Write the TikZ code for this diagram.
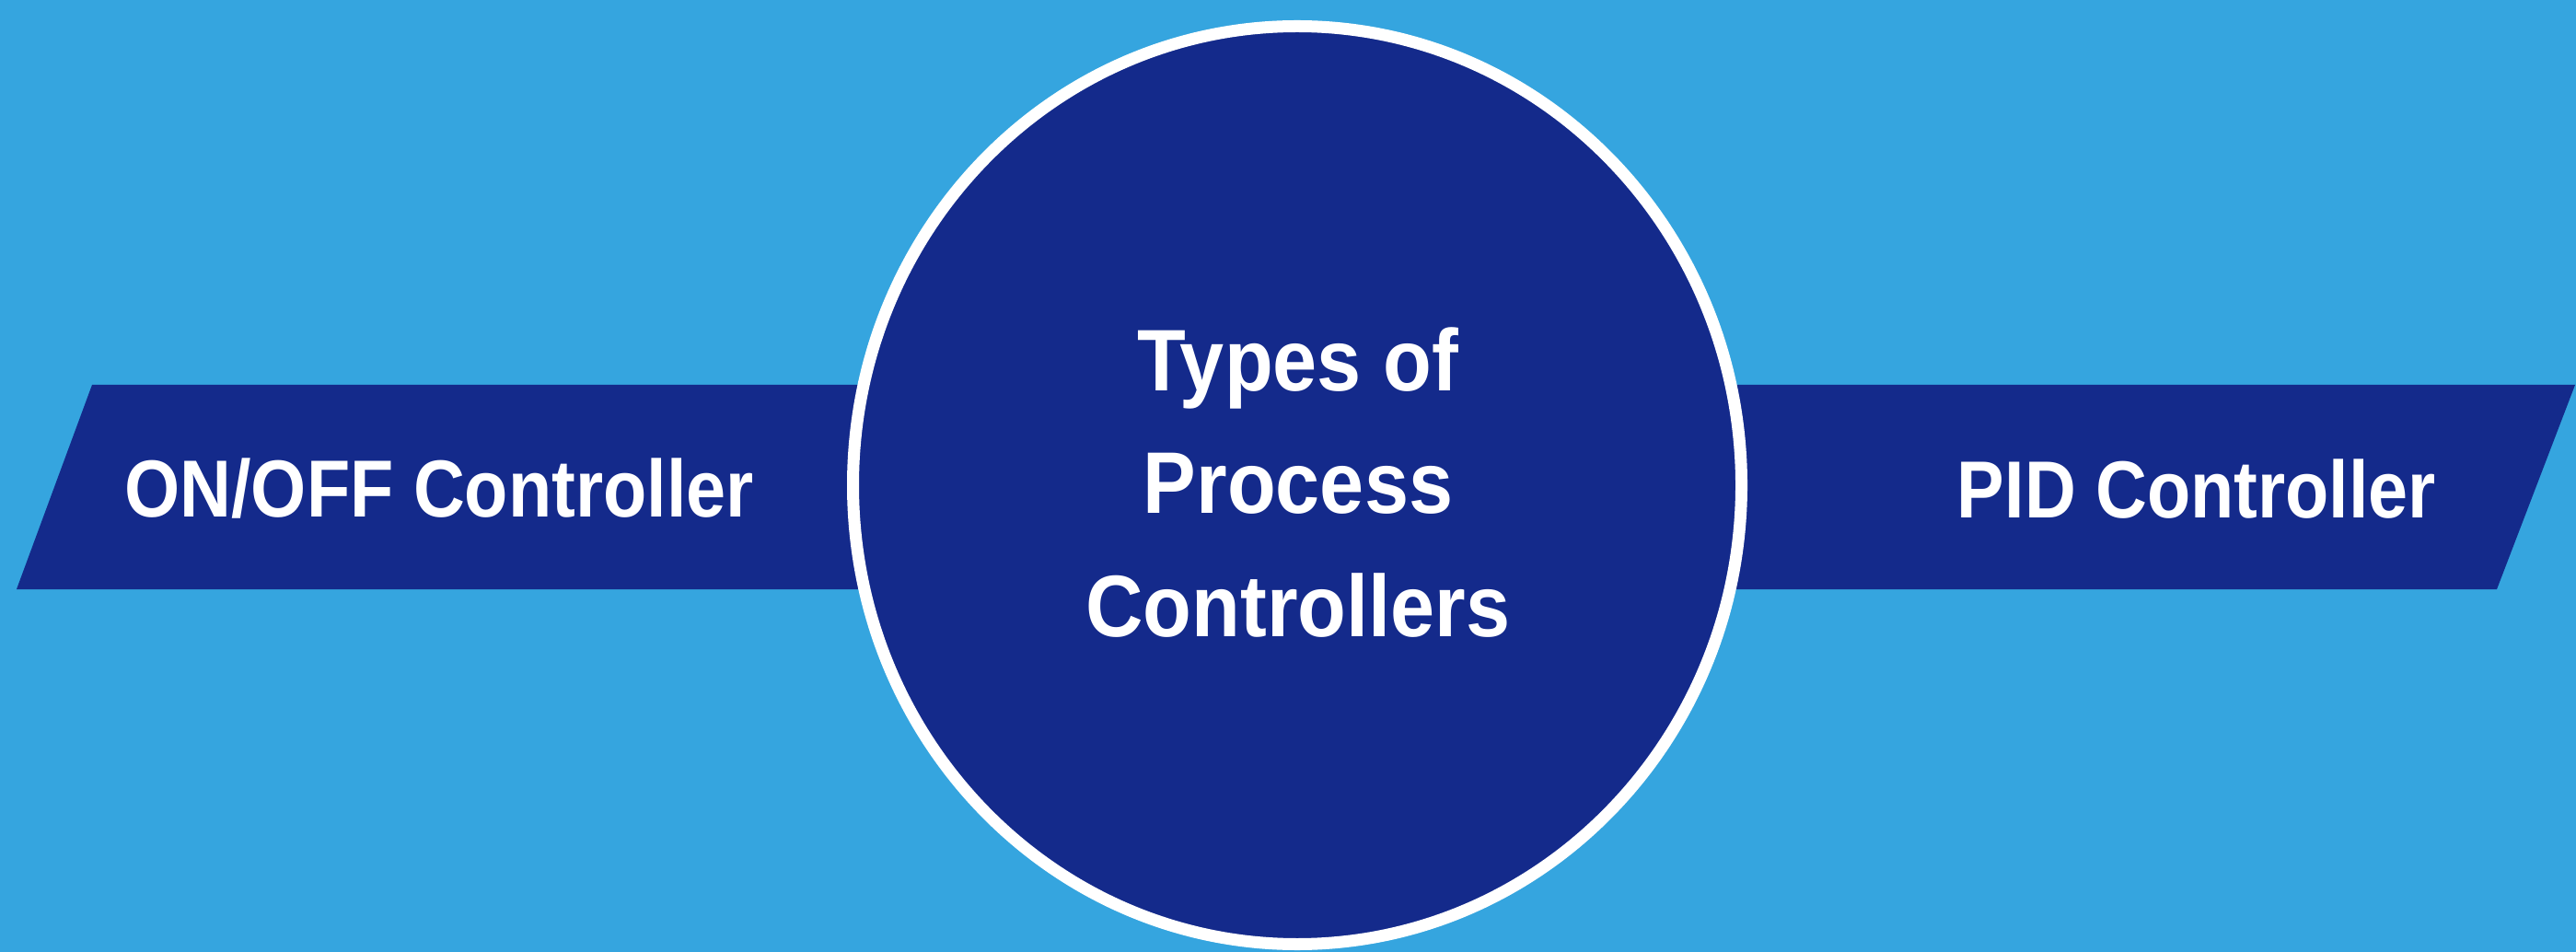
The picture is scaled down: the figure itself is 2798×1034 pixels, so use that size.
\documentclass[tikz,border=0pt]{standalone}
\usepackage{fontspec}
\setmainfont{Liberation Sans}
\newfontfamily\sidefont[FakeStretch=0.88]{Liberation Sans Bold}
\newfontfamily\hubfont[FakeStretch=0.91]{Liberation Sans Bold}
\definecolor{bgblue}{HTML}{35A5DF}
\definecolor{navy}{HTML}{142A8B}
\tikzset{
  band/.style={fill=navy, draw=none},
  sidelabel/.style={text=white, font=\sidefont\fontsize{25}{30}\selectfont, inner sep=0pt},
  centerlabel/.style={text=white, font=\hubfont\fontsize{27}{38}\selectfont, align=center, inner sep=0pt},
  hub/.style={fill=navy, draw=white, line width=0.13cm}
}
\begin{document}
\begin{tikzpicture}[x=0.01cm, y=-0.01cm]
  \fill[bgblue] (0,0) rectangle (2798,1034);
  \useasboundingbox (0,0) rectangle (2798,1034);
  % bands
  \path[band] (100,418) -- (1100,418) -- (1100,640) -- (18,640) -- cycle;
  \path[band] (1700,418) -- (2797,418) -- (2712,640) -- (1700,640) -- cycle;
  % circle
  \path[hub] (1409,527) ellipse [x radius=482.5, y radius=498.5];
  \node[centerlabel] (title) at (1410,524) {Types of\\Process\\Controllers};
  \node[sidelabel] (onoff) at (477,531) {ON/OFF Controller};
  \node[sidelabel] (pid) at (2386,531) {PID Controller};
\end{tikzpicture}
\end{document}
